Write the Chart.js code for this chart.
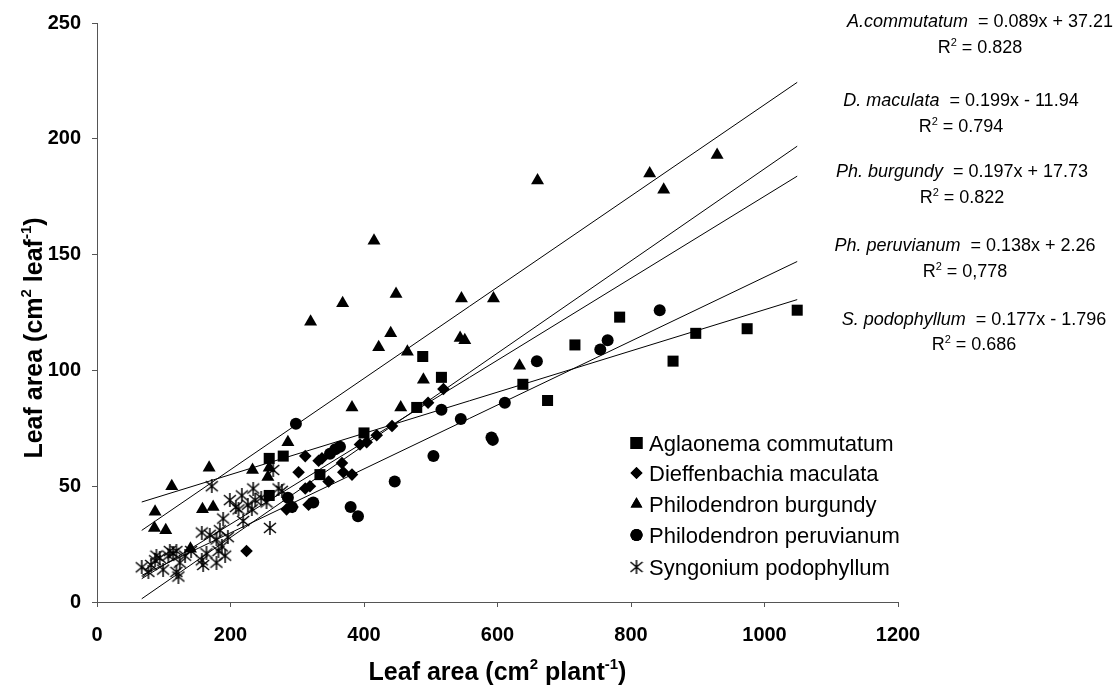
<!DOCTYPE html>
<html>
<head>
<meta charset="utf-8">
<script src="https://cdn.jsdelivr.net/npm/chart.js@4.4.1/dist/chart.umd.min.js"></script>
<style>
  html, body { margin: 0; padding: 0; background: #fff; }
</style>
</head>
<body>
<canvas id="leafChart" width="1115" height="686"></canvas>
<script>
// leaf area per plant (x) vs leaf area per leaf (y), cm2
const commutatum = [
  [258, 62], [279, 63], [258, 46], [334, 55], [400, 73], [479, 84], [488, 106], [516, 97],
  [638, 94], [675, 87], [716, 111], [783, 123], [863, 104], [897, 116], [974, 118], [1049, 126]
];
const maculata = [
  [224, 22], [284, 40], [293, 41], [302, 56], [312, 63], [312, 49], [317, 42], [319, 50],
  [332, 61], [337, 62], [347, 52], [367, 60], [369, 56], [382, 55], [394, 68], [404, 69],
  [419, 72], [442, 76], [496, 86], [519, 92]
];
const burgundy = [
  [87, 39], [86, 32], [103, 31], [112, 50], [140, 23], [158, 40], [168, 58], [174, 41],
  [233, 57], [256, 54], [258, 58], [286, 69], [320, 121], [368, 129], [382, 84], [415, 156],
  [422, 110], [440, 116], [448, 133], [455, 84], [465, 108], [489, 96], [544, 114], [551, 113],
  [546, 131], [594, 131], [633, 102], [660, 182], [828, 185], [849, 178], [929, 193]
];
const peruvianum = [
  [286, 45], [292, 41], [298, 77], [324, 43], [349, 64], [357, 66], [364, 67], [380, 41],
  [391, 37], [446, 52], [504, 63], [516, 83], [545, 79], [591, 71], [593, 70], [611, 86],
  [659, 104], [754, 109], [765, 113], [843, 126]
];
const podophyllum = [
  [67, 15], [77, 13], [81, 16], [87, 18], [89, 20], [94, 19], [99, 14], [107, 20],
  [109, 22], [114, 21], [119, 13], [119, 22], [122, 11], [124, 17], [132, 20], [141, 22],
  [157, 18], [157, 30], [159, 16], [164, 21], [169, 29], [172, 50], [179, 27], [179, 17],
  [182, 22], [184, 31], [187, 24], [189, 36], [192, 20], [196, 28], [199, 44], [208, 41],
  [212, 40], [217, 46], [219, 35], [226, 42], [232, 40], [234, 49], [237, 44], [246, 45],
  [254, 43], [259, 32], [264, 57], [272, 49], [277, 48]
];

const speciesNames = ['Aglaonema commutatum', 'Dieffenbachia maculata', 'Philodendron burgundy',
  'Philodendron peruvianum', 'Syngonium podophyllum'];
const fitNames = ['A.commutatum', 'D. maculata', 'Ph. burgundy', 'Ph. peruvianum', 'S. podophyllum'];
const slopes = [0.089, 0.199, 0.197, 0.138, 0.177];
const intercepts = [37.21, -11.94, 17.73, 2.26, -1.796];
const r2Values = ['0.828', '0.794', '0.822', '0,778', '0.686'];
const xTicks = [0, 200, 400, 600, 800, 1000, 1200];
const yTicks = [0, 50, 100, 150, 200, 250];

const FONT = "Arial, 'Liberation Sans', Helvetica, sans-serif";

// Excel-like star marker: an X with a vertical bar
function starMarker(size) {
  const c = document.createElement('canvas');
  c.width = size; c.height = size;
  const g = c.getContext('2d');
  g.strokeStyle = '#000';
  g.lineWidth = 1.5;
  g.beginPath();
  g.moveTo(1, 2); g.lineTo(size - 1, size - 2);
  g.moveTo(size - 1, 2); g.lineTo(1, size - 2);
  g.moveTo(size / 2, 0); g.lineTo(size / 2, size);
  g.stroke();
  return c;
}
const star = starMarker(14);

const series = [commutatum, maculata, burgundy, peruvianum, podophyllum];
const markers = [
  { style: 'rect', radius: 7.8 },
  { style: 'rectRot', radius: 6.3 },
  { style: 'triangle', radius: 7.5 },
  { style: 'circle', radius: 6 },
  { style: star, radius: 7 }
];
const legendMarkers = [
  { style: 'rect', radius: 8.5 },
  { style: 'rectRot', radius: 6 },
  { style: 'triangle', radius: 6.8 },
  { style: 'circle', radius: 6 },
  { style: star, radius: 7 }
];

// trendlines run over the whole x range of the data
const allX = series.flat().map(p => p[0]);
const xMin = Math.min(...allX);
const xMax = Math.max(...allX);

const datasets = [];
slopes.forEach((m, i) => {
  datasets.push({
    label: fitNames[i],
    data: [xMin, xMax].map(x => ({ x: x, y: m * x + intercepts[i] })),
    showLine: true,
    borderColor: '#000',
    borderWidth: 1,
    pointRadius: 0,
    order: 0
  });
});
series.forEach((pts, i) => {
  datasets.push({
    label: speciesNames[i],
    data: pts.map(p => ({ x: p[0], y: p[1] })),
    pointStyle: markers[i].style,
    pointRadius: markers[i].radius,
    backgroundColor: '#000',
    borderColor: '#000',
    borderWidth: 0,
    order: 1
  });
});

// text made of runs with different fonts / offsets, centred on cx
function richText(ctx, parts, cx, y) {
  let total = 0;
  parts.forEach(p => { ctx.font = p.font; p.w = ctx.measureText(p.t).width; total += p.w; });
  let x = cx - total / 2;
  parts.forEach(p => {
    ctx.font = p.font;
    ctx.fillText(p.t, x, y + (p.dy || 0));
    x += p.w;
  });
}

const signed = v => (v < 0 ? '- ' : '+ ') + Math.abs(v);

const annotations = {
  id: 'annotations',
  afterDraw(chart) {
    const ctx = chart.ctx;
    const area = chart.chartArea;
    ctx.save();
    ctx.fillStyle = '#000';
    ctx.textBaseline = 'alphabetic';
    ctx.textAlign = 'left';

    // axis titles
    const tb = 'bold 25px ' + FONT;
    const ts = 'bold 15px ' + FONT;
    richText(ctx, [
      { t: 'Leaf area (cm', font: tb }, { t: '2', font: ts, dy: -11 },
      { t: ' plant', font: tb }, { t: '-1', font: ts, dy: -11 }, { t: ')', font: tb }
    ], (area.left + area.right) / 2, 680);

    ctx.save();
    ctx.translate(42, 338);
    ctx.rotate(-Math.PI / 2);
    richText(ctx, [
      { t: 'Leaf area (cm', font: tb }, { t: '2', font: ts, dy: -11 },
      { t: ' leaf', font: tb }, { t: '-1', font: ts, dy: -11 }, { t: ')', font: tb }
    ], 0, 0);
    ctx.restore();

    // regression equations
    const eqPos = [[980, 27, 53], [961, 106, 132], [962, 177, 203], [965, 251, 277], [974, 325, 350]];
    const it = 'italic 18px ' + FONT;
    const rg = '18px ' + FONT;
    const sm = '11px ' + FONT;
    fitNames.forEach((name, i) => {
      const [cx, y1, y2] = eqPos[i];
      richText(ctx, [
        { t: name, font: it },
        { t: '  = ' + slopes[i] + 'x ' + signed(intercepts[i]), font: rg }
      ], cx, y1);
      richText(ctx, [
        { t: 'R', font: rg }, { t: '2', font: sm, dy: -7 }, { t: ' = ' + r2Values[i], font: rg }
      ], cx, y2);
    });

    // legend
    const rows = [443, 473, 504, 535, 567];
    ctx.font = '22px ' + FONT;
    speciesNames.forEach((name, i) => {
      Chart.helpers.drawPoint(ctx, {
        pointStyle: legendMarkers[i].style,
        radius: legendMarkers[i].radius,
        rotation: 0,
        borderWidth: 0
      }, 636.5, rows[i]);
      ctx.fillStyle = '#000';
      ctx.fill();
      ctx.fillText(name, 649, rows[i] + 8);
    });
    ctx.restore();
  }
};

const tickFont = { family: FONT, size: 20, weight: 'bold' };

new Chart(document.getElementById('leafChart'), {
  type: 'scatter',
  data: { datasets: datasets },
  plugins: [annotations],
  options: {
    responsive: false,
    animation: false,
    layout: { padding: { top: 22, right: 217, left: 0, bottom: 0 } },
    plugins: {
      legend: { display: false },
      tooltip: { enabled: false }
    },
    scales: {
      x: {
        type: 'linear',
        min: 0,
        max: 1200,
        afterBuildTicks: s => { s.ticks = xTicks.map(v => ({ value: v })); },
        afterFit: s => { s.height = 84; },
        ticks: { color: '#000', padding: 16, font: tickFont, callback: v => String(v) },
        grid: { drawOnChartArea: false, drawTicks: true, tickLength: 5, color: '#555' },
        border: { display: true, color: '#555', width: 1 }
      },
      y: {
        type: 'linear',
        min: 0,
        max: 250,
        afterBuildTicks: s => { s.ticks = yTicks.map(v => ({ value: v })); },
        afterFit: s => { s.width = 97; },
        ticks: { color: '#000', padding: 11, font: tickFont, callback: v => String(v) },
        grid: { drawOnChartArea: false, drawTicks: true, tickLength: 5, color: '#555' },
        border: { display: true, color: '#555', width: 1 }
      }
    }
  }
});
</script>
</body>
</html>
